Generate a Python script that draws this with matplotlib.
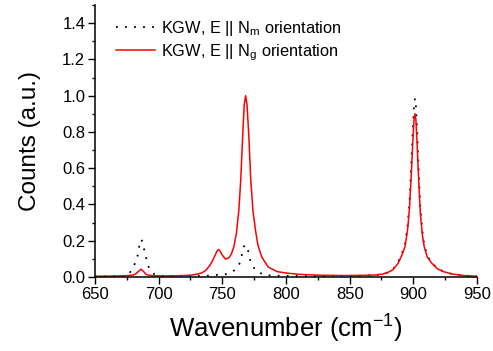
import matplotlib
matplotlib.use("Agg")
import matplotlib.pyplot as plt
from matplotlib.ticker import MultipleLocator

plt.rcParams['font.family'] = ['Liberation Sans', 'DejaVu Sans']
plt.rcParams['mathtext.fontset'] = 'custom'
plt.rcParams['mathtext.rm'] = 'Liberation Sans'
plt.rcParams['mathtext.it'] = 'Liberation Sans'
plt.rcParams['mathtext.default'] = 'rm'

# Series: KGW, E || Nm orientation (black dotted)
nm_x = [650, 660, 670, 676, 679.6, 682, 683.8, 685, 686.4, 687.6, 689.3, 691, 692.4,
        696.6, 702, 715, 730, 739.5, 746, 752, 758, 762.8, 764.7, 765.7, 767.5, 769,
        770.2, 771.2, 773, 776.2, 782, 788, 800, 825, 850, 870, 876, 880, 884, 888,
        891, 893.5, 895.5, 897, 898.5, 899.7, 900.6, 901.3, 902, 903, 904.2, 905.5,
        907, 908.5, 911, 914.5, 919, 924, 930, 940, 950]
nm_y = [0.003, 0.003, 0.005, 0.010, 0.048, 0.085, 0.126, 0.185, 0.207, 0.190, 0.126,
        0.085, 0.048, 0.015, 0.007, 0.005, 0.006, 0.007, 0.012, 0.014, 0.028, 0.061,
        0.098, 0.137, 0.178, 0.165, 0.146, 0.107, 0.072, 0.035, 0.014, 0.008, 0.006,
        0.005, 0.006, 0.010, 0.016, 0.026, 0.042, 0.080, 0.130, 0.180, 0.280, 0.410,
        0.630, 0.830, 0.950, 0.985, 0.950, 0.810, 0.580, 0.380, 0.260, 0.180, 0.115,
        0.078, 0.046, 0.030, 0.017, 0.008, 0.004]

# Series: KGW, E || Ng orientation (red solid)
ng_x = [650, 660, 670, 676, 680, 682, 684, 686, 688, 690, 692, 696, 705, 715, 725,
        730, 734, 737, 740, 742, 744, 746, 747, 748, 750, 752.5, 755, 757, 759, 761,
        763, 764.5, 766, 767.2, 768.3, 769.4, 770.8, 772.3, 774, 776, 778, 781, 786,
        793, 800, 810, 825, 845, 860, 870, 876, 880, 884, 888, 891, 893.5, 895.5, 897,
        898.5, 899.7, 900.6, 901.3, 902, 903, 904.2, 905.5, 907, 908.5, 911, 914.5,
        919, 923.6, 930, 940, 950]
ng_y = [0.004, 0.005, 0.006, 0.008, 0.011, 0.017, 0.030, 0.043, 0.032, 0.015, 0.010,
        0.007, 0.006, 0.007, 0.010, 0.015, 0.023, 0.037, 0.062, 0.085, 0.115, 0.145,
        0.151, 0.146, 0.120, 0.099, 0.105, 0.125, 0.165, 0.240, 0.370, 0.540, 0.780,
        0.950, 1.000, 0.950, 0.780, 0.540, 0.370, 0.260, 0.175, 0.110, 0.055, 0.030,
        0.022, 0.015, 0.010, 0.008, 0.009, 0.011, 0.016, 0.025, 0.040, 0.075, 0.120,
        0.168, 0.260, 0.380, 0.580, 0.760, 0.870, 0.900, 0.870, 0.730, 0.537, 0.352,
        0.240, 0.168, 0.110, 0.076, 0.045, 0.030, 0.017, 0.008, 0.004]

x_ticks = [650, 700, 750, 800, 850, 900, 950]
y_ticks = [0.0, 0.2, 0.4, 0.6, 0.8, 1.0, 1.2, 1.4]
labels = [r'KGW, E || N$_\mathrm{m}$ orientation', r'KGW, E || N$_\mathrm{g}$ orientation']

fig = plt.figure(figsize=(4.93, 3.51), dpi=100)
ax = fig.add_axes([0.1927, 0.2108, 0.7748, 0.775])

ax.plot(nm_x, nm_y, color='black', linewidth=1.3, linestyle=(0, (1, 4)), label=labels[0])
ax.plot(ng_x, ng_y, color='#ff0000', linewidth=1.1, label=labels[1])

ax.set_xlim(650, 950)
ax.set_ylim(0, 1.5)
ax.set_xticks(x_ticks)
ax.set_yticks(y_ticks)
ax.set_yticklabels([f'{v:.1f}' for v in y_ticks])
ax.xaxis.set_minor_locator(MultipleLocator(25))
ax.yaxis.set_minor_locator(MultipleLocator(0.1))
ax.tick_params(which='major', direction='out', length=5, width=1, labelsize=12, pad=2)
ax.tick_params(which='minor', direction='out', length=2.5, width=1)

for s in ['top', 'right']:
    ax.spines[s].set_visible(False)
for s in ['left', 'bottom']:
    ax.spines[s].set_linewidth(1.1)

ax.set_xlabel(r'Wavenumber (cm$^{-1}$)', fontsize=18.5, labelpad=8)
ax.set_ylabel('Counts (a.u.)', fontsize=17.5, labelpad=15)

ax.legend(loc='upper left', frameon=False, fontsize=11.8, handlelength=2.4,
          handletextpad=0.35, labelspacing=0.25, borderaxespad=0.3,
          bbox_to_anchor=(0.025, 0.99))

fig.savefig('out.png', dpi=100)
